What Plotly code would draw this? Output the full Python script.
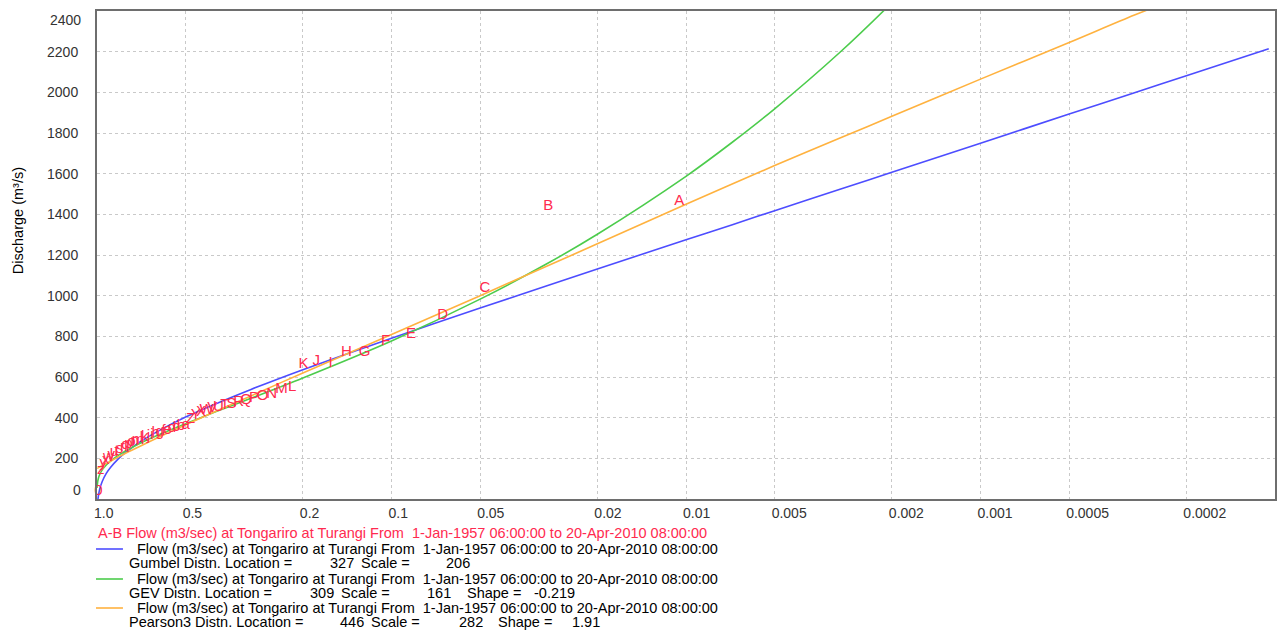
import plotly.graph_objects as go

# ---------------- data ----------------
# exceedance-probability axis ticks
tick_prob = [1.0, 0.5, 0.2, 0.1, 0.05, 0.02, 0.01, 0.005, 0.002, 0.001, 0.0005, 0.0002]
tick_text = ["1.0", "0.5", "0.2", "0.1", "0.05", "0.02", "0.01", "0.005", "0.002", "0.001", "0.0005", "0.0002"]
y_ticks = [0, 200, 400, 600, 800, 1000, 1200, 1400, 1600, 1800, 2000, 2200, 2400]

# fitted curves (exceedance probability, discharge m3/s)
gumbel_p = [0.9925, 0.99, 0.98, 0.96, 0.93, 0.9, 0.85, 0.8, 0.7, 0.6, 0.5, 0.4, 0.3, 0.2, 0.1,
            0.05, 0.03, 0.02, 0.01, 0.007, 0.005, 0.003, 0.002, 0.001, 0.0005, 0.0003, 0.0002, 0.000105]
gumbel_q = [0, 12, 46, 86, 126, 155, 195, 229, 289, 345, 403, 465, 539, 636, 791,
            939, 1046, 1131, 1275, 1348, 1418, 1523, 1607, 1750, 1893, 1998, 2082, 2214]

gev_p = [0.999, 0.995, 0.99, 0.98, 0.96, 0.93, 0.9, 0.85, 0.8, 0.7, 0.6, 0.5, 0.4, 0.3, 0.2, 0.1,
         0.05, 0.03, 0.02, 0.01, 0.007, 0.005, 0.003, 0.002, 0.0015]
gev_q = [55, 84, 100, 119, 143, 167, 186, 213, 236, 280, 323, 370, 426, 495, 595, 777,
         983, 1153, 1302, 1587, 1752, 1919, 2197, 2441, 2627]

p3_p = [0.999, 0.99, 0.98, 0.96, 0.93, 0.9, 0.85, 0.8, 0.7, 0.6, 0.5, 0.4, 0.3, 0.2, 0.1,
        0.05, 0.03, 0.02, 0.01, 0.005, 0.003, 0.002, 0.001, 0.0005, 0.0003, 0.0002]
p3_q = [151, 153, 157, 164, 175, 186, 205, 225, 266, 312, 365, 428, 507, 620, 809,
        1000, 1142, 1255, 1450, 1640, 1775, 1882, 2065, 2245, 2380, 2480]

# ranked annual maxima, labelled A..Z, a..z, 0
obs_labels = list("ABCDEFGHIJKLMNOPQRSTUVWXYZabcdefghijklmnopqrstuvwxyz0")
obs_p = [0.01054, 0.02937, 0.04819, 0.06702, 0.08584, 0.10467, 0.12349, 0.14232, 0.16114, 0.17997,
         0.19880, 0.21762, 0.23645, 0.25527, 0.27410, 0.29292, 0.31175, 0.33057, 0.34940, 0.36822,
         0.38705, 0.40587, 0.42470, 0.44352, 0.46235, 0.48117, 0.50000, 0.51883, 0.53765, 0.55648,
         0.57530, 0.59413, 0.61295, 0.63178, 0.65060, 0.66943, 0.68825, 0.70708, 0.72590, 0.74473,
         0.76355, 0.78238, 0.80120, 0.82003, 0.83886, 0.85768, 0.87651, 0.89533, 0.91416, 0.93298,
         0.95181, 0.97063, 0.98946]
obs_q = [1463, 1438, 1037, 906, 810, 775, 720, 720, 670, 676,
         662, 550, 538, 515, 505, 495, 485, 476, 468, 460,
         452, 444, 436, 426, 410, 392, 365, 358, 352, 346,
         340, 334, 328, 322, 316, 310, 304, 298, 291, 284,
         277, 270, 262, 254, 246, 237, 228, 217, 206, 192,
         174, 140, 40]

series_title = "A-B Flow (m3/sec) at Tongariro at Turangi From\u00a0\u00a01-Jan-1957 06:00:00 to 20-Apr-2010 08:00:00"
fit_title = "Flow (m3/sec) at Tongariro at Turangi From\u00a0\u00a01-Jan-1957 06:00:00 to 20-Apr-2010 08:00:00"
dist_names = ["Gumbel Distn. Location =", "GEV Distn. Location =", "Pearson3 Distn. Location ="]
dist_location = ["327", "309", "446"]
dist_scale = ["206", "161", "282"]
dist_shape = [None, "-0.219", "1.91"]

# ---------------- style ----------------
BLUE = "#4d4dff"
GREEN = "#4ccc4c"
ORANGE = "#ffb23f"
RED = "#ff2a4f"
FONT = "Liberation Sans, Arial, sans-serif"
TICKCOL = "#333333"

W, H = 1282, 630
L, R, T, B = 97, 1277, 11, 499


def px_x(px):
    return (px - L) / (R - L)


def px_y(py):
    return (B - py) / (B - T)


def ret(ps):
    return [1.0 / p for p in ps]


fig = go.Figure()

for ps, qs, col in [(gumbel_p, gumbel_q, BLUE), (gev_p, gev_q, GREEN), (p3_p, p3_q, ORANGE)]:
    fig.add_trace(go.Scatter(x=ret(ps), y=qs, mode="lines",
                             line=dict(color=col, width=1.6, shape="spline", smoothing=0.8),
                             showlegend=False, hoverinfo="skip"))

fig.add_trace(go.Scatter(x=ret(obs_p), y=obs_q, mode="text", text=obs_labels,
                         textposition="middle center", textfont=dict(color=RED, size=15, family=FONT),
                         cliponaxis=False, showlegend=False, hoverinfo="skip"))

fig.update_layout(
    width=W, height=H,
    margin=dict(l=L, r=W - R, t=T, b=H - B),
    paper_bgcolor="white", plot_bgcolor="white",
    font=dict(family=FONT, size=14, color=TICKCOL),
    showlegend=False,
)

# inner y tick labels on the axis; the end labels (0, 2400) are nudged inward as in the original
y_ticktext = ["" if v in (y_ticks[0], y_ticks[-1]) else str(v) for v in y_ticks]

fig.update_xaxes(
    type="log", range=[0, 4],
    tickvals=ret(tick_prob), ticktext=tick_text,
    ticklabelposition="outside right", ticklabelshift=-4,
    ticks="", tickfont=dict(size=14, color=TICKCOL, family=FONT),
    showgrid=True, gridcolor="#c9c9c9", griddash="dot", gridwidth=1,
    showline=True, linecolor="#6e6e6e", linewidth=2, mirror=True,
    zeroline=False,
)
fig.update_yaxes(
    range=[0, 2400], tickvals=y_ticks, ticktext=y_ticktext,
    ticks="", ticklabelstandoff=14, tickfont=dict(size=14, color=TICKCOL, family=FONT),
    showgrid=True, gridcolor="#c9c9c9", griddash="dot", gridwidth=1,
    showline=True, linecolor="#6e6e6e", linewidth=2, mirror=True,
    zeroline=False,
)

ann = []
ann.append(dict(text="Discharge (m\u00b3/s)", textangle=-90, x=px_x(18), y=px_y(221), xref="paper", yref="paper",
                showarrow=False, font=dict(size=14.5, color="black", family=FONT), xanchor="center", yanchor="middle"))

# end labels of the y axis, placed just inside the plot's vertical extent
for val, py in [(y_ticks[0], 490), (y_ticks[-1], 20)]:
    ann.append(dict(text=str(val), x=px_x(82), y=px_y(py), xref="paper", yref="paper", showarrow=False,
                    xanchor="right", yanchor="middle", font=dict(size=14, color=TICKCOL, family=FONT), borderpad=0))

LF = 14.5


def txt(s, x, y, anchor="left", color="black"):
    ann.append(dict(text=s, x=px_x(x), y=px_y(y), xref="paper", yref="paper", showarrow=False,
                    xanchor=anchor, yanchor="middle", font=dict(size=LF, color=color, family=FONT),
                    borderpad=0))


txt(series_title, 97, 533, color=RED)
line_rows = [549, 579, 608]
param_rows = [563, 593, 622]
colors = [BLUE, GREEN, ORANGE]
loc_end = [355, 335, 365]
scale_start = [360, 340, 370]
scale_end = [472, 453, 485]
shape_start = [None, 467, 498]
shape_end = [None, 577, 602]
shapes = []
for i in range(3):
    shapes.append(dict(type="line", xref="paper", yref="paper", x0=px_x(96), x1=px_x(123),
                       y0=px_y(line_rows[i]), y1=px_y(line_rows[i]), line=dict(color=colors[i], width=1.6)))
    txt(fit_title, 136, line_rows[i])
    txt(dist_names[i], 128, param_rows[i])
    txt(dist_location[i], loc_end[i], param_rows[i], anchor="right")
    txt("Scale =", scale_start[i], param_rows[i])
    txt(dist_scale[i], scale_end[i], param_rows[i], anchor="right")
    if dist_shape[i] is not None:
        txt("Shape =", shape_start[i], param_rows[i])
        txt(dist_shape[i], shape_end[i], param_rows[i], anchor="right")

fig.update_layout(annotations=ann, shapes=shapes)
fig.write_html("out.html")
